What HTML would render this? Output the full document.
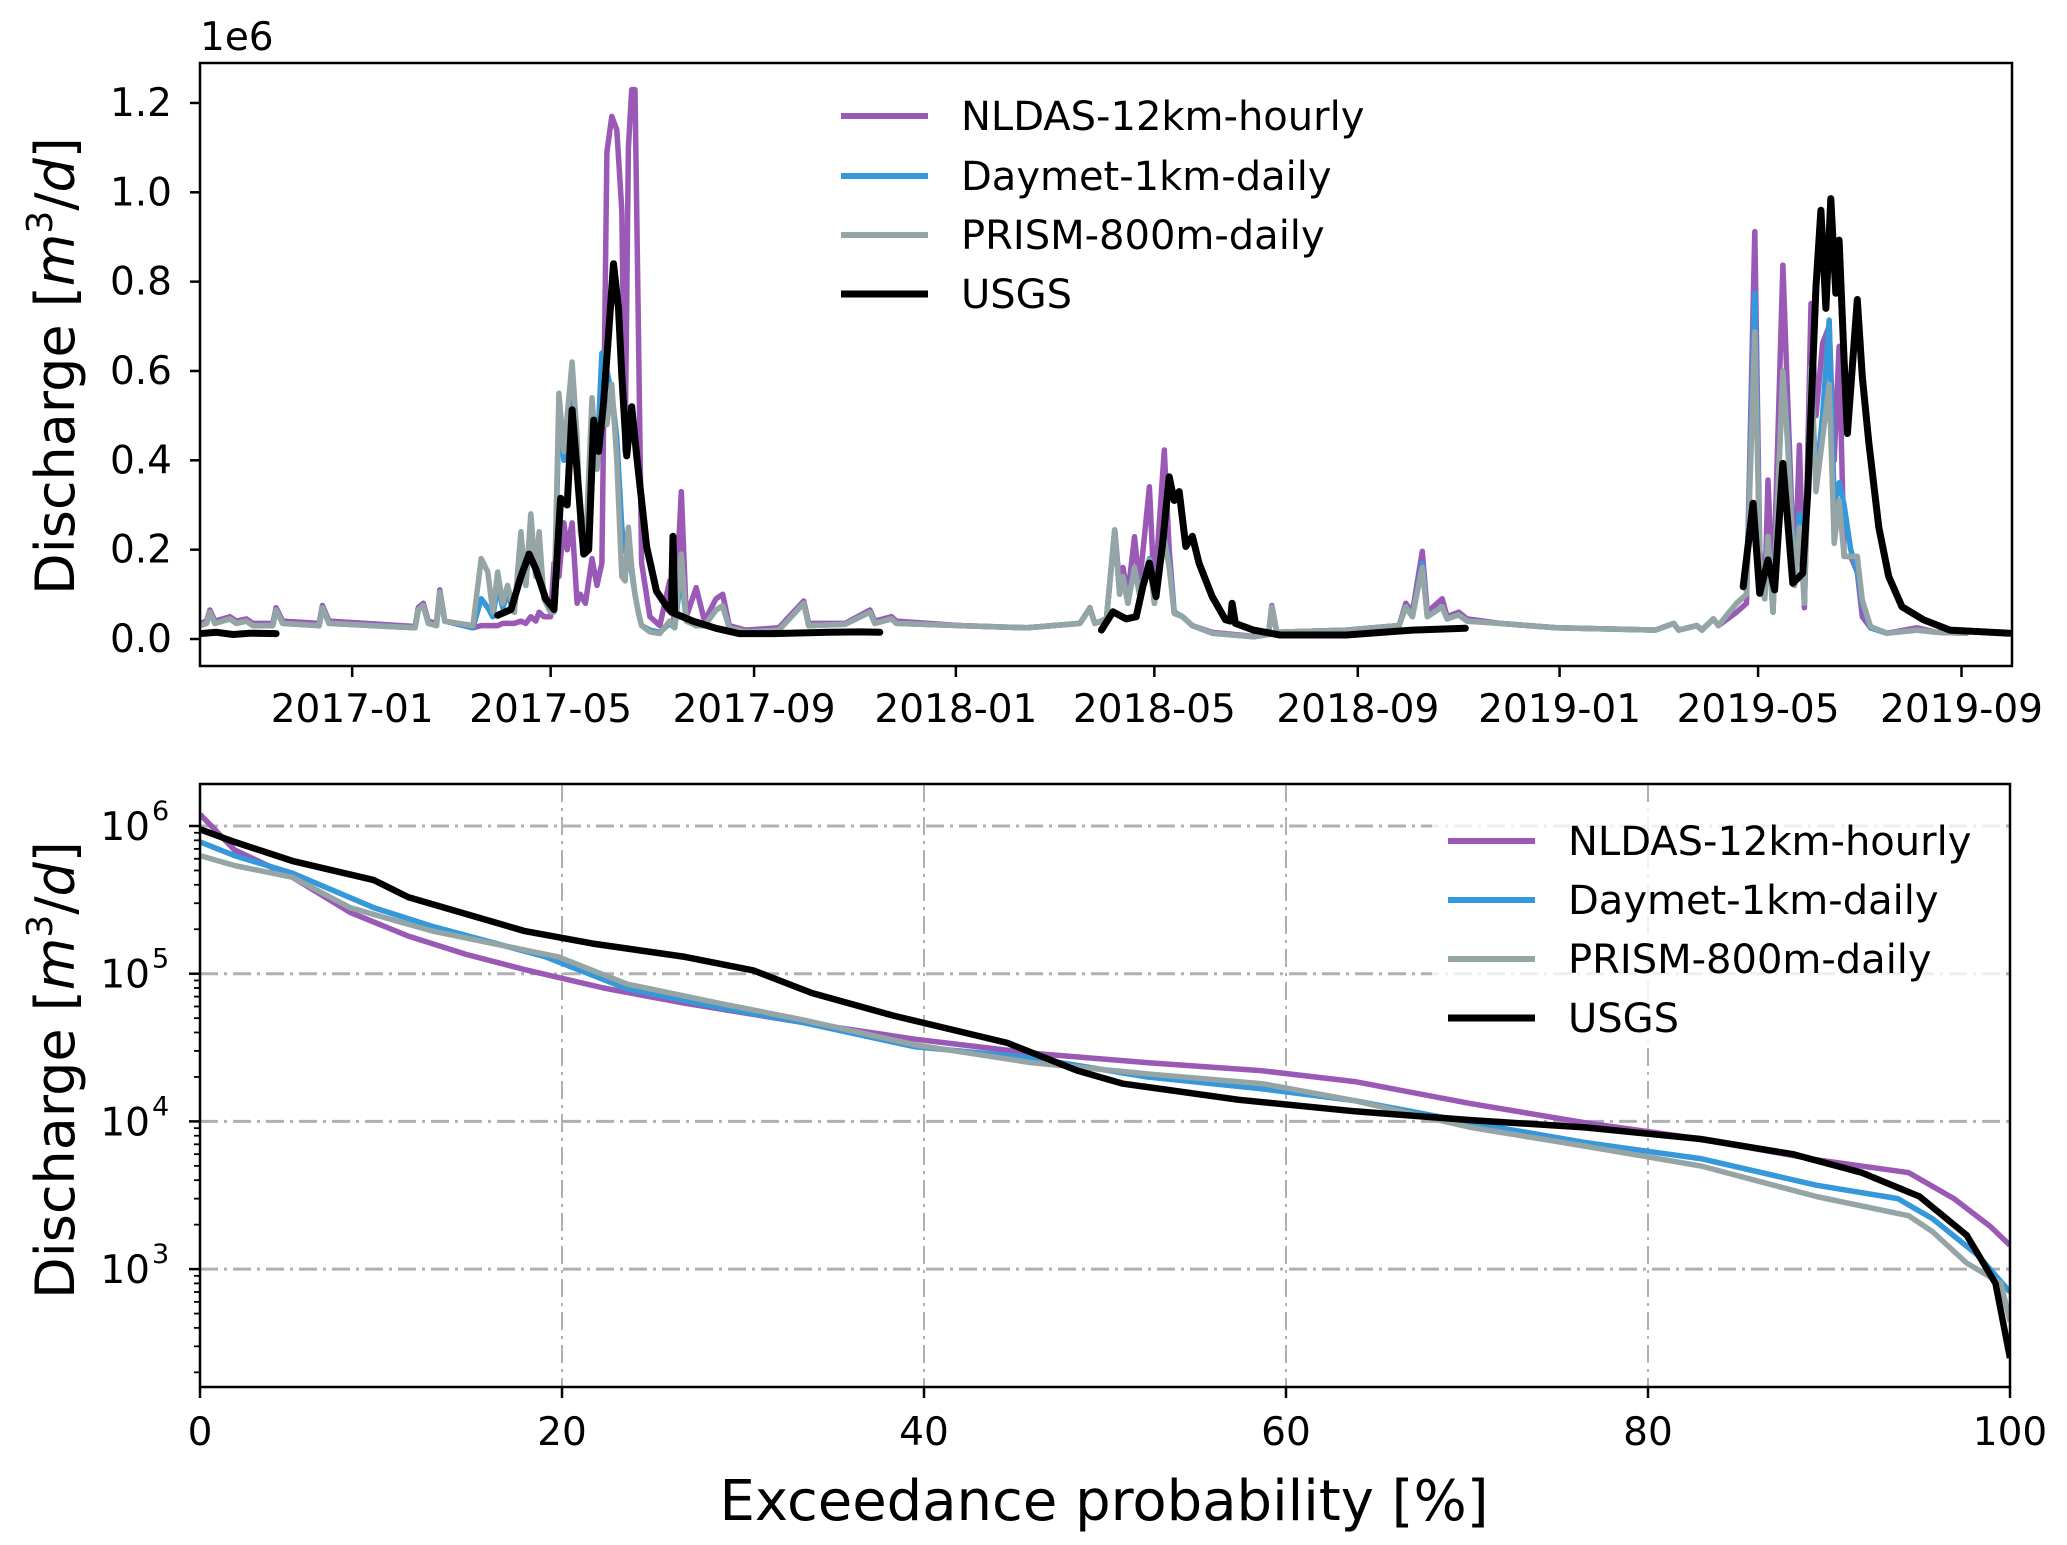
<!DOCTYPE html>
<html><head><meta charset="utf-8"><style>
html,body{margin:0;padding:0;background:#fff;}
svg{display:block;font-family:"DejaVu Sans","Liberation Sans",sans-serif;}
</style></head><body>
<svg id="fig" width="2067" height="1545" viewBox="0 0 2067 1545" xmlns="http://www.w3.org/2000/svg">
<defs>
<clipPath id="clipTop"><rect x="200" y="63" width="1812" height="603"/></clipPath>
<clipPath id="clipBot"><rect x="200" y="784" width="1810" height="603"/></clipPath>
</defs>
<rect x="0" y="0" width="2067" height="1545" fill="#fff"/>
<g id="topPanel"></g>
<g id="botPanel"></g>
</svg>
<script>
// ---------- Top panel data (days since 2016-10-01, discharge in 1e6 m3/d) ----------
const modelDays = [0,4,6,9,18,22,28,32,44,46,50,72,74,78,130,132,135,138,143,145,148,165,170,174,177,180,183,186,190,194,197,200,203,205,208,212,214,217,220,222,225,228,230,233,237,240,243,246,249,252,255,257,259,261,263,265,267,272,278,284,287,291,294,300,305,312,316,320,330,350,365,368,390,405,408,418,421,460,500,532,538,541,548,553,556,558,561,565,568,574,577,583,586,589,594,600,612,637,646,648,651,693,725,729,733,739,742,751,754,761,766,786,820,880,891,894,905,908,915,918,929,935,940,943,946,948,951,957,960,964,967,970,974,977,981,985,988,991,994,998,1002,1005,1010,1020,1038,1050,1068];
const prismVals = [.03,.035,.06,.035,.045,.035,.04,.03,.03,.065,.035,.03,.07,.035,.025,.065,.075,.035,.03,.105,.04,.03,.18,.15,.06,.15,.08,.12,.06,.24,.12,.28,.14,.24,.09,.06,.06,.55,.42,.5,.62,.45,.24,.19,.54,.38,.52,.48,.57,.4,.14,.13,.25,.16,.1,.06,.03,.016,.012,.04,.025,.19,.04,.03,.03,.065,.074,.025,.016,.02,.08,.03,.033,.06,.035,.045,.035,.03,.025,.035,.069,.035,.043,.244,.1,.14,.08,.16,.1,.177,.08,.222,.16,.057,.05,.03,.013,.005,.01,.072,.015,.02,.03,.072,.05,.16,.05,.072,.045,.054,.04,.035,.025,.02,.035,.02,.03,.02,.045,.03,.08,.1,.688,.177,.09,.23,.06,.6,.43,.12,.25,.08,.61,.33,.45,.57,.214,.31,.185,.185,.185,.087,.028,.013,.02,.015,.013];
const daymetVals = [.03,.035,.06,.035,.045,.035,.04,.03,.03,.065,.035,.03,.07,.035,.025,.065,.075,.035,.03,.105,.04,.025,.09,.07,.05,.12,.07,.1,.06,.22,.12,.26,.14,.22,.09,.06,.06,.5,.4,.48,.58,.44,.24,.19,.5,.4,.64,.6,.55,.45,.25,.2,.18,.15,.1,.06,.03,.02,.015,.035,.025,.15,.04,.03,.03,.065,.074,.025,.016,.02,.08,.03,.033,.06,.035,.045,.035,.03,.025,.035,.069,.035,.043,.244,.1,.14,.08,.16,.1,.18,.08,.23,.17,.06,.05,.03,.013,.005,.01,.072,.015,.02,.03,.072,.05,.17,.05,.072,.045,.054,.04,.035,.025,.02,.035,.02,.03,.02,.045,.03,.08,.1,.774,.18,.09,.23,.06,.6,.45,.12,.28,.08,.61,.35,.5,.714,.3,.35,.3,.2,.15,.08,.025,.013,.02,.015,.013];
const nldasVals = [.035,.04,.065,.04,.05,.04,.045,.035,.035,.07,.04,.035,.075,.04,.028,.07,.08,.04,.035,.11,.04,.025,.03,.03,.03,.03,.035,.035,.035,.04,.035,.05,.04,.06,.05,.05,.17,.14,.26,.2,.26,.08,.1,.08,.18,.12,.17,1.09,1.17,1.14,.96,.42,1.1,1.23,1.23,.71,.17,.05,.03,.13,.03,.33,.05,.115,.04,.09,.1,.03,.02,.025,.085,.035,.035,.065,.04,.05,.04,.03,.025,.035,.07,.035,.045,.244,.12,.16,.1,.229,.12,.341,.1,.423,.2,.06,.05,.03,.015,.006,.01,.075,.015,.02,.03,.08,.06,.196,.06,.09,.05,.06,.045,.035,.025,.02,.035,.02,.03,.02,.045,.03,.06,.08,.912,.2,.09,.356,.08,.837,.528,.12,.434,.07,.751,.5,.662,.7,.4,.655,.185,.185,.15,.05,.025,.013,.025,.015,.013];
const usgsDays = [0,10,20,30,46,null,180,188,194,199,203,209,214,218,222,225,227,232,235,238,241,244,247,250,253,255,258,261,264,270,276,282,285,286,287,298,312,326,347,380,399,411,null,545,552,560,566,570,574,578,582,586,589,592,596,600,604,612,620,623,624,626,637,653,693,733,765,null,933,939,943,948,952,957,963,969,972,977,980,983,986,989,991,994,996,1002,1005,1009,1015,1021,1029,1042,1058,1094];
const usgsVals = [.012,.015,.01,.013,.012,null,.053,.066,.14,.19,.157,.09,.066,.315,.3,.513,.42,.19,.2,.49,.42,.53,.68,.84,.74,.59,.41,.52,.41,.207,.107,.074,.06,.23,.057,.04,.024,.012,.012,.015,.016,.015,null,.02,.061,.045,.05,.117,.17,.095,.214,.363,.31,.33,.207,.23,.17,.095,.043,.04,.08,.035,.02,.009,.009,.02,.024,null,.117,.304,.102,.177,.11,.393,.125,.147,.326,.79,.96,.74,.986,.774,.893,.625,.46,.76,.587,.438,.25,.14,.072,.043,.02,.013];
const topTickVals = [0,0.2,0.4,0.6,0.8,1.0,1.2];
const topTickLabels = ["0.0","0.2","0.4","0.6","0.8","1.0","1.2"];
const dateTickDays = [92,212,335,457,577,700,822,942,1065];
const dateTickLabels = ["2017-01","2017-05","2017-09","2018-01","2018-05","2018-09","2019-01","2019-05","2019-09"];

// ---------- Bottom panel data (exceedance %, discharge m3/d) ----------
const usgsPct = [0,1.9,5.1,9.6,11.5,17.9,21.7,26.8,30.6,33.8,38.3,44.6,48.5,51,57.4,63.8,70.2,76.5,82.9,88,91.8,95,97.6,99.2,100];
const usgsQ = [9.5e5,7.8e5,5.8e5,4.3e5,3.3e5,1.95e5,1.6e5,1.3e5,1.05e5,7.4e4,5.2e4,3.4e4,2.2e4,1.8e4,1.4e4,1.17e4,1.02e4,9.1e3,7.6e3,6e3,4.5e3,3.1e3,1.7e3,800,250];
const nldasPct = [0,1.9,5.1,8.3,11.5,14.7,17.9,22.3,26.8,33.2,39.5,45.9,52.3,58.7,63.8,70.2,76.5,82.9,89.3,94.4,96.9,98.9,100];
const nldasQ = [1.2e6,6.9e5,4.5e5,2.6e5,1.8e5,1.35e5,1.07e5,8e4,6.3e4,4.7e4,3.6e4,2.9e4,2.5e4,2.2e4,1.86e4,1.32e4,9.8e3,7.6e3,5.5e3,4.5e3,3e3,1.95e3,1.45e3];
const daymetPct = [0,1.9,5.1,9.6,12.8,19.1,23.6,28.7,33.2,39.5,45.9,52.3,58.7,63.8,70.2,76.5,82.9,89.3,93.8,95.7,98.2,100];
const daymetQ = [7.8e5,6.3e5,4.8e5,2.8e5,2.1e5,1.3e5,7.9e4,5.9e4,4.7e4,3.2e4,2.7e4,2e4,1.66e4,1.38e4,9.8e3,7.2e3,5.6e3,3.7e3,3e3,2.2e3,1.25e3,700];
const prismPct = [0,1.9,5.1,8.3,12.8,19.8,23.6,28.7,33.2,39.5,45.9,52.3,58.7,63.8,70.2,76.5,82.9,89.3,94.4,95.7,97.6,99.5,100];
const prismQ = [6.3e5,5.4e5,4.5e5,2.8e5,1.95e5,1.3e5,8.5e4,6.3e4,4.9e4,3.3e4,2.5e4,2.1e4,1.8e4,1.38e4,9.1e3,6.8e3,5e3,3.1e3,2.3e3,1.8e3,1.1e3,800,440];
const pctTicks = [0,20,40,60,80,100];
const decadeTicks = [3,4,5,6];

const seriesNames = ["NLDAS-12km-hourly","Daymet-1km-daily","PRISM-800m-daily","USGS"];
const seriesColors = ["#9b59b6","#3498db","#95a5a6","#000000"];

(function(){
const NS = "http://www.w3.org/2000/svg";
function mk(tag, attrs, parent){ const e=document.createElementNS(NS,tag); for(const k in attrs) e.setAttribute(k,attrs[k]); parent.appendChild(e); return e; }

const xTop = d => 200 + d*1.654;
const yTop = v => 639 - v*446.7;
const xBot = p => 200 + p*18.1;
function yB(q){ return 826 + (6 - Math.log10(q))*147.7; }

const topG = document.getElementById('topPanel');
const botG = document.getElementById('botPanel');

function pathFrom(xs, ys, fx, fy){
  let d=""; let pen=false;
  const n=Math.min(xs.length, ys.length);
  for(let i=0;i<n;i++){
    const a=xs[i], b=ys[i];
    if(a===null||b===null||a===undefined||b===undefined||isNaN(a)||isNaN(b)){pen=false;continue;}
    d += (pen?"L":"M")+fx(a).toFixed(1)+","+fy(b).toFixed(1);
    pen=true;
  }
  return d;
}
const gTopLines = mk('g',{'clip-path':'url(#clipTop)'},topG);


const topSeries = [[modelDays,nldasVals,0,5.5],[modelDays,daymetVals,1,5.5],[modelDays,prismVals,2,5.5],[usgsDays,usgsVals,3,7]];
const topNames = ['nldas-hydrograph-line','daymet-hydrograph-line','prism-hydrograph-line','usgs-hydrograph-line'];
topSeries.forEach((s,i)=>{
  const p = mk('path',{d:pathFrom(s[0],s[1],xTop,yTop),fill:'none',stroke:seriesColors[s[2]],'stroke-width':s[3],'stroke-linejoin':'round','stroke-linecap':'round'},gTopLines);
  
  
});
const topFrame = mk('rect',{x:200,y:63,width:1812,height:603,fill:'none',stroke:'#000','stroke-width':2.5},topG);


topTickVals.forEach((v,i)=>{
  const y=yTop(v);
  mk('line',{x1:190,y1:y,x2:200,y2:y,stroke:'#000','stroke-width':2.5},topG);
  const t=mk('text',{x:172,y:y+13,'text-anchor':'end','font-size':39,fill:'#000'},topG);
  t.textContent=topTickLabels[i];
  
  
});
dateTickDays.forEach((d,i)=>{
  const x=xTop(d);
  mk('line',{x1:x,y1:666,x2:x,y2:677,stroke:'#000','stroke-width':2.5},topG);
  const t=mk('text',{x:x,y:722,'text-anchor':'middle','font-size':39,fill:'#000'},topG);
  t.textContent=dateTickLabels[i];
  
  
});
const sci=mk('text',{x:200,y:50,'font-size':39,fill:'#000'},topG);
sci.textContent='1e6';



function ylabel(parent, cy, name){
  const t=mk('text',{transform:'translate(74,'+cy+') rotate(-90)','text-anchor':'middle','font-size':54,fill:'#000'},parent);
  
  
  const parts=[['Discharge [',{}],['m',{'font-style':'italic'}],['3',{'font-size':36,dy:-22}],['/',{dy:22}],['d',{'font-style':'italic'}],[']',{}]];
  parts.forEach(pp=>{ const ts=mk('tspan',pp[1],t); ts.textContent=pp[0]; });
}
ylabel(topG,366,'hydrograph-y-axis-title');

function legend(parent, x0, ys, name){
  const g=mk('g',{},parent);
  
  
  seriesNames.forEach((n,i)=>{
    const e=mk('g',{},g);
    
    
    mk('line',{x1:x0,y1:ys[i],x2:x0+87,y2:ys[i],stroke:seriesColors[i],'stroke-width':i==3?7:6},e);
    const t=mk('text',{x:x0+120,y:ys[i]+14,'font-size':40,fill:'#000'},e);
    t.textContent=n;
  });
}
legend(topG,841,[116,176,235,294],'hydrograph-legend');

// ---- bottom panel ----
const grid=mk('g',{},botG);


pctTicks.forEach(p=>{ if(p>0&&p<100) mk('line',{x1:xBot(p),y1:784,x2:xBot(p),y2:1387,stroke:'#b0b0b0','stroke-width':2,'stroke-dasharray':'18,6,3,6'},grid); });
decadeTicks.forEach(e=>{ const y=yB(Math.pow(10,e)); mk('line',{x1:200,y1:y,x2:2010,y2:y,stroke:'#b0b0b0','stroke-width':3,'stroke-dasharray':'18,6,3,6'},grid); });
const lg2bg=mk('rect',{x:1432,y:808,width:570,height:236,fill:'#fff','fill-opacity':0.8},botG);


const gBotLines=mk('g',{'clip-path':'url(#clipBot)'},botG);


const botSeries=[[nldasPct,nldasQ,0,5.5,'nldas-fdc-line'],[daymetPct,daymetQ,1,5.5,'daymet-fdc-line'],[prismPct,prismQ,2,5.5,'prism-fdc-line'],[usgsPct,usgsQ,3,6.5,'usgs-fdc-line']];
botSeries.forEach(s=>{
  const p=mk('path',{d:pathFrom(s[0],s[1],xBot,yB),fill:'none',stroke:seriesColors[s[2]],'stroke-width':s[3],'stroke-linejoin':'round'},gBotLines);
  
  
});
const botFrame=mk('rect',{x:200,y:784,width:1810,height:603,fill:'none',stroke:'#000','stroke-width':2.5},botG);


decadeTicks.forEach(e=>{
  const y=yB(Math.pow(10,e));
  mk('line',{x1:189,y1:y,x2:200,y2:y,stroke:'#000','stroke-width':2.5},botG);
  const t=mk('text',{x:150,y:y+14,'text-anchor':'end','font-size':39,fill:'#000'},botG);
  t.textContent='10';
  
  
  const s=mk('text',{x:152,y:y-6,'font-size':27,fill:'#000'},botG);
  s.textContent=String(e);
});
[2,3,4,5,6,7,8,9].forEach(m=>{
  [2,3,4,5,6].forEach(e=>{
    const y=yB(m*Math.pow(10,e));
    if(y>784&&y<1387) mk('line',{x1:194,y1:y,x2:200,y2:y,stroke:'#000','stroke-width':1.8},botG);
  });
});
pctTicks.forEach(p=>{
  const x=xBot(p);
  mk('line',{x1:x,y1:1387,x2:x,y2:1398,stroke:'#000','stroke-width':2.5},botG);
  const t=mk('text',{x:x,y:1445,'text-anchor':'middle','font-size':39,fill:'#000'},botG);
  t.textContent=String(p);
  
  
});
const xl=mk('text',{x:1104,y:1520,'text-anchor':'middle','font-size':56,fill:'#000'},botG);
xl.textContent='Exceedance probability [%]';


ylabel(botG,1070,'flow-duration-y-axis-title');
legend(botG,1448,[841,900,959,1018],'flow-duration-legend');
})();
</script>
</body></html>
